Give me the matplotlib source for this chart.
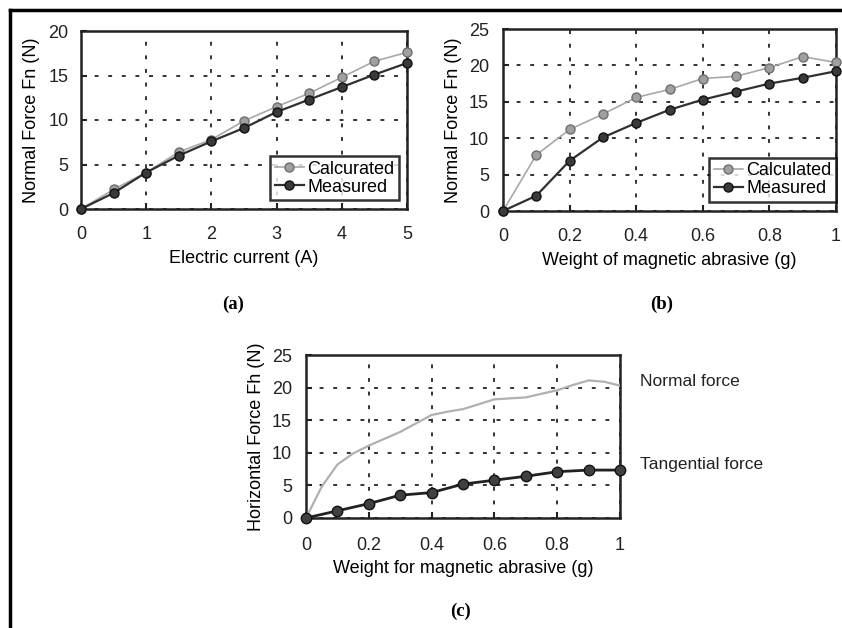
import matplotlib
matplotlib.use("Agg")
import matplotlib.pyplot as plt
from matplotlib.lines import Line2D

plt.rcParams['font.family'] = ['Liberation Sans', 'DejaVu Sans']

# ---- data ----
current_a = [0, 0.5, 1, 1.5, 2, 2.5, 3, 3.5, 4, 4.5, 5]
calc_a = [0, 2.2, 4.1, 6.4, 7.8, 9.9, 11.5, 13.0, 14.8, 16.6, 17.6]
meas_a = [0, 1.8, 4.1, 6.0, 7.6, 9.1, 10.9, 12.3, 13.7, 15.1, 16.4]

weight_b = [0, 0.1, 0.2, 0.3, 0.4, 0.5, 0.6, 0.7, 0.8, 0.9, 1.0]
calc_b = [0, 7.7, 11.2, 13.3, 15.6, 16.7, 18.2, 18.5, 19.7, 21.2, 20.4]
meas_b = [0, 2.1, 6.9, 10.1, 12.1, 13.9, 15.3, 16.4, 17.5, 18.3, 19.2]

weight_c_normal = [0, 0.05, 0.1, 0.15, 0.2, 0.3, 0.4, 0.45, 0.5, 0.6, 0.7, 0.8, 0.85, 0.9, 0.95, 1.0]
normal_c = [0, 4.8, 8.2, 9.9, 11.1, 13.2, 15.8, 16.3, 16.7, 18.2, 18.5, 19.6, 20.4, 21.1, 20.9, 20.3]
weight_c = [0, 0.1, 0.2, 0.3, 0.4, 0.5, 0.6, 0.7, 0.8, 0.9, 1.0]
tang_c = [0, 1.1, 2.2, 3.5, 3.9, 5.2, 5.8, 6.4, 7.1, 7.35, 7.35]

xt_a = [0, 1, 2, 3, 4, 5]
xt_w = [0, 0.2, 0.4, 0.6, 0.8, 1.0]
xtl_w = ['0', '0.2', '0.4', '0.6', '0.8', '1']

fig = plt.figure(figsize=(8.42, 6.28), dpi=100)
W, H = 842, 628

def add_axes_px(l, r, t, b):
    return fig.add_axes([l / W, 1 - b / H, (r - l) / W, (b - t) / H])

FS = 13

def style(ax, xpad=12, ypad=8):
    for s in ax.spines.values():
        s.set_linewidth(1.8)
        s.set_color('#222222')
    ax.tick_params(direction='in', length=4, width=1.5, labelsize=FS, colors='#222222')
    ax.tick_params(axis='x', pad=xpad)
    ax.tick_params(axis='y', pad=ypad)
    ax.grid(True, color='#333333', linestyle=(0, (2, 5)), linewidth=1.4)
    ax.set_axisbelow(True)

# ---- (a) ----
ax1 = add_axes_px(81, 407, 31, 209)
ax1.plot(current_a, calc_a, '-o', color='#a8a8a8', lw=1.2, ms=6.5,
         mfc='#a0a0a0', mec='#6e6e6e', mew=1.0, label='Calcurated', clip_on=False, zorder=3)
ax1.plot(current_a, meas_a, '-o', color='#303030', lw=1.6, ms=6.5,
         mfc='#3a3a3a', mec='#111111', mew=1.0, label='Measured', clip_on=False, zorder=4)
ax1.set_xlim(0, 5)
ax1.set_ylim(0, 20)
ax1.set_xticks(xt_a)
ax1.set_yticks([0, 5, 10, 15, 20])
style(ax1, xpad=12, ypad=9)
ax1.set_xlabel('Electric current (A)', fontsize=FS, labelpad=5)
ax1.set_ylabel('Normal Force Fn (N)', fontsize=FS, labelpad=6)
leg1 = ax1.legend(loc='lower right', bbox_to_anchor=(0.975, 0.05), fontsize=FS, frameon=True,
                  fancybox=False, edgecolor='black', borderpad=0.25, labelspacing=0.05,
                  handlelength=1.6, handletextpad=0.2, borderaxespad=0.0, shadow=False)
leg1.get_frame().set_linewidth(1.8)

# ---- (b) ----
ax2 = add_axes_px(503, 836, 29, 211)
ax2.plot(weight_b, calc_b, '-o', color='#a8a8a8', lw=1.2, ms=6.5,
         mfc='#a0a0a0', mec='#6e6e6e', mew=1.0, label='Calculated', clip_on=False, zorder=3)
ax2.plot(weight_b, meas_b, '-o', color='#303030', lw=1.6, ms=6.5,
         mfc='#3a3a3a', mec='#111111', mew=1.0, label='Measured', clip_on=False, zorder=4)
ax2.set_xlim(0, 1)
ax2.set_ylim(0, 25)
ax2.set_xticks(xt_w)
ax2.set_xticklabels(xtl_w)
ax2.set_yticks([0, 5, 10, 15, 20, 25])
style(ax2, xpad=12, ypad=10)
ax2.set_xlabel('Weight of magnetic abrasive (g)', fontsize=FS, labelpad=5)
ax2.set_ylabel('Normal Force Fn (N)', fontsize=FS, labelpad=5)
leg2 = ax2.legend(loc='lower right', bbox_to_anchor=(1.0, 0.05), fontsize=FS, frameon=True,
                  fancybox=False, edgecolor='black', borderpad=0.25, labelspacing=0.05,
                  handlelength=1.6, handletextpad=0.2, borderaxespad=0.0, shadow=False)
leg2.get_frame().set_linewidth(1.8)

# ---- (c) ----
ax3 = add_axes_px(306, 620, 355, 518)
ax3.plot(weight_c_normal, normal_c, '-', color='#b0b0b0', lw=1.6, zorder=3)
ax3.plot(weight_c, tang_c, '-o', color='#222222', lw=2.0, ms=7.5,
         mfc='#404040', mec='#111111', mew=1.0, clip_on=False, zorder=4)
ax3.set_xlim(0, 1)
ax3.set_ylim(0, 25)
ax3.set_xticks(xt_w)
ax3.set_xticklabels(xtl_w)
ax3.set_yticks([0, 5, 10, 15, 20, 25])
style(ax3, xpad=14, ypad=10)
ax3.set_xlabel('Weight for magnetic abrasive (g)', fontsize=FS, labelpad=4)
ax3.set_ylabel('Horizontal Force Fh (N)', fontsize=FS, labelpad=5)
fig.text(640 / W, 1 - 382 / H, 'Normal force', fontsize=12.5, va='center', ha='left', color='#222222')
fig.text(640 / W, 1 - 465 / H, 'Tangential force', fontsize=12.5, va='center', ha='left', color='#222222')

# ---- sub labels ----
for lab, x, y in [('(a)', 233, 304), ('(b)', 662, 304), ('(c)', 460, 611)]:
    fig.text(x / W, 1 - y / H, lab, fontsize=13.5, fontweight='bold', ha='center', va='center',
             family=['Liberation Serif', 'DejaVu Serif'])

# ---- outer frame ----
fig.add_artist(Line2D([10 / W, 1.0], [1 - 10 / H, 1 - 10 / H], transform=fig.transFigure,
                      color='black', lw=2.5))
fig.add_artist(Line2D([10 / W, 10 / W], [1 - 10 / H, 0.0], transform=fig.transFigure,
                      color='black', lw=2.5))

fig.savefig('out.png', dpi=100)
